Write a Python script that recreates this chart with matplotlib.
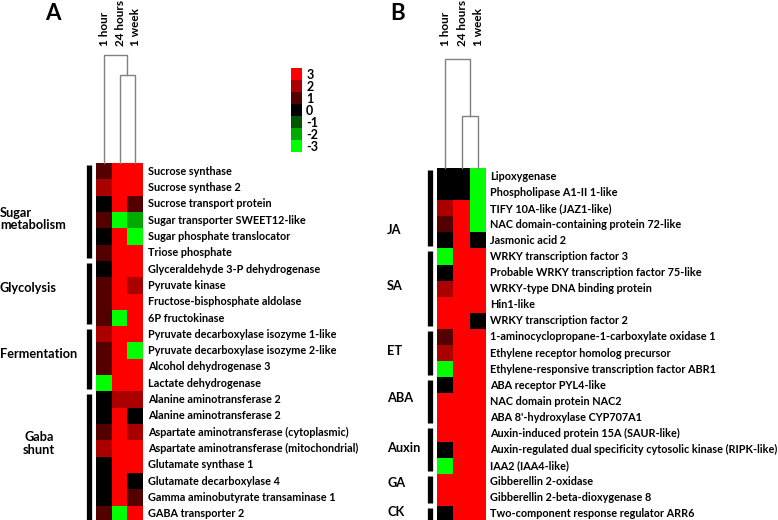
import matplotlib
matplotlib.use("Agg")
import matplotlib.pyplot as plt
import matplotlib.transforms as mtrans
from matplotlib.colors import ListedColormap, BoundaryNorm
import numpy as np

# ---------------- data ----------------
time_points = ["1 hour", "24 hours", "1 week"]

genes_A = ["Sucrose synthase", "Sucrose synthase 2", "Sucrose transport protein",
           "Sugar transporter SWEET12-like", "Sugar phosphate translocator", "Triose phosphate",
           "Glyceraldehyde 3-P dehydrogenase", "Pyruvate kinase", "Fructose-bisphosphate aldolase",
           "6P fructokinase", "Pyruvate decarboxylase isozyme 1-like",
           "Pyruvate decarboxylase isozyme 2-like", "Alcohol dehydrogenase 3",
           "Lactate dehydrogenase", "Alanine aminotransferase 2", "Alanine aminotransferase 2",
           "Aspartate aminotransferase (cytoplasmic)", "Aspartate aminotransferase (mitochondrial)",
           "Glutamate synthase 1", "Glutamate decarboxylase 4",
           "Gamma aminobutyrate transaminase 1", "GABA transporter 2"]
hour1_A = [1, 2, 0, 1, 0, 1, 0, 1, 1, 1, 2, 1, 1, -3, 0, 0, 1, 2, 0, 0, 0, 1]
hours24_A = [3, 3, 3, -3, 3, 3, 3, 3, 3, -3, 3, 3, 3, 3, 2, 3, 3, 3, 3, 3, 3, -3]
week1_A = [3, 3, 1, -2, -3, 3, 3, 2, 3, 3, 3, -3, 3, 3, 2, 0, 2, 3, 3, 0, 1, 3]
groups_A = ["Sugar\nmetabolism", "Glycolysis", "Fermentation", "Gaba\nshunt"]
group_rows_A = [(0, 5), (6, 9), (10, 13), (14, 21)]

genes_B = ["Lipoxygenase", "Phospholipase A1-II 1-like", "TIFY 10A-like (JAZ1-like)",
           "NAC domain-containing protein 72-like", "Jasmonic acid 2",
           "WRKY transcription factor 3", "Probable WRKY transcription factor 75-like",
           "WRKY-type DNA binding protein", "Hin1-like", "WRKY transcription factor 2",
           "1-aminocyclopropane-1-carboxylate oxidase 1", "Ethylene receptor homolog precursor",
           "Ethylene-responsive transcription factor ABR1", "ABA receptor PYL4-like",
           "NAC domain protein NAC2", "ABA 8'-hydroxylase CYP707A1",
           "Auxin-induced protein 15A (SAUR-like)",
           "Auxin-regulated dual specificity cytosolic kinase (RIPK-like)",
           "IAA2 (IAA4-like)", "Gibberellin 2-oxidase", "Gibberellin 2-beta-dioxygenase 8",
           "Two-component response regulator ARR6"]
hour1_B = [0, 0, 2, 1, 0, -3, 0, 2, 3, 3, 1, 2, -3, 0, 3, 3, 3, 0, -3, 3, 3, 0]
hours24_B = [0, 0, 3, 3, 3, 3, 3, 3, 3, 3, 3, 3, 3, 3, 3, 3, 3, 3, 3, 3, 3, 3]
week1_B = [-3, -3, -3, -3, 0, 3, 3, 3, 3, 0, 3, 3, 3, 3, 3, 3, 3, 3, 3, 3, 3, 3]
groups_B = ["JA", "SA", "ET", "ABA", "Auxin", "GA", "CK"]
group_rows_B = [(0, 4), (5, 9), (10, 12), (13, 15), (16, 18), (19, 20), (21, 21)]

# dendrogram linkages (scipy style: leaf/cluster a, leaf/cluster b, height)
linkage_A = [(1, 2, 0.815), (0, 3, 1.0)]
linkage_B = [(1, 2, 0.477), (0, 3, 1.0)]

scale_values = [3, 2, 1, 0, -1, -2, -3]

# ---------------- style ----------------
FONT = ["Lato", "DejaVu Sans"]
plt.rcParams["font.family"] = FONT
plt.rcParams["font.weight"] = "bold"

colors = ["#00ff00", "#00aa00", "#005500", "#000000", "#550000", "#aa0000", "#ff0000"]
cmap = ListedColormap(colors)
norm = BoundaryNorm(np.arange(-3.5, 4.0, 1.0), cmap.N)

W, H = 778, 520
fig = plt.figure(figsize=(W / 100, H / 100), dpi=100)


def px_axes(x0, y0, x1, y1):
    return fig.add_axes([x0 / W, 1 - y1 / H, (x1 - x0) / W, (y1 - y0) / H])


def draw_dendro(ax, linkage, n):
    pos = {i: i for i in range(n)}
    hgt = {i: 0.0 for i in range(n)}
    nxt = n
    for a, b, h in linkage:
        xa, xb = pos[a], pos[b]
        ax.plot([xa, xa, xb, xb], [hgt[a], h, h, hgt[b]], color="#808080", lw=1.0,
                clip_on=False, solid_joinstyle="miter")
        pos[nxt] = (xa + xb) / 2
        hgt[nxt] = h
        nxt += 1
    ax.set_xlim(-0.5, n - 0.5)
    ax.set_ylim(0, 1)
    ax.set_axis_off()


def panel(hx0, hx1, hy0, hy1, dtop, cols, genes, linkage, label_x,
          bar_x, groups, group_rows, group_label_pos, group_label_x, group_ha):
    data = np.array(cols).T
    ax = px_axes(hx0, hy0, hx1, hy1)
    ax.imshow(data, cmap=cmap, norm=norm, aspect="auto", interpolation="nearest")
    ax.set_xlim(-0.5, data.shape[1] - 0.5)
    ax.set_ylim(data.shape[0] - 0.5, -0.5)
    ax.set_axis_off()
    tr_lab = mtrans.blended_transform_factory(fig.transFigure, ax.transData)
    for i, g in enumerate(genes):
        ax.text(label_x / W, i, g, transform=tr_lab, ha="left", va="center",
                fontsize=7.8, fontweight="bold", color="black")
    for (r0, r1) in group_rows:
        ax.plot([bar_x / W, bar_x / W], [r0 - 0.35, r1 + 0.35], transform=tr_lab,
                color="black", lw=3.8, solid_capstyle="butt", clip_on=False)
    for g, yp, xp, ha in zip(groups, group_label_pos, group_label_x, group_ha):
        ax.text(xp / W, yp, g, transform=tr_lab, ha=ha, va="center",
                fontsize=9.2, fontweight="bold", color="black", linespacing=1.05,
                multialignment=ha)
    dax = px_axes(hx0, dtop, hx1, hy0)
    draw_dendro(dax, linkage, data.shape[1])
    tr_col = mtrans.blended_transform_factory(dax.transData, fig.transFigure)
    for j, t in enumerate(time_points):
        dax.text(j + 0.05, 1 - 46 / H, t, transform=tr_col, rotation=90,
                 ha="center", va="bottom", fontsize=8.5, fontweight="bold")


panel(96, 143, 163, 522, 55, [hour1_A, hours24_A, week1_A], genes_A, linkage_A, 148,
      88.5, groups_A, group_rows_A, [2.94, 7.17, 11.2, 16.7], [0, 0, 0, 39],
      ["left", "left", "left", "center"])

panel(437, 486, 168, 522, 59, [hour1_B, hours24_B, week1_B], genes_B, linkage_B, 490,
      429.5, groups_B, group_rows_B, [3.35, 6.83, 10.87, 13.78, 16.9, 19.07, 20.87],
      [387] * 7, ["left"] * 7)

# colour scale
cax = px_axes(291, 68, 302, 152)
cax.imshow(np.array(scale_values).reshape(-1, 1), cmap=cmap, norm=norm, aspect="auto",
           interpolation="nearest")
cax.set_xticks([])
cax.yaxis.tick_right()
cax.set_yticks(range(len(scale_values)))
cax.set_yticklabels([str(v) for v in scale_values], fontsize=9, fontweight="bold")
cax.tick_params(axis="y", length=0, pad=3)
for s in cax.spines.values():
    s.set_visible(False)

fig.text(53 / W, 1 - 13 / H, "A", fontsize=16, fontweight="bold", ha="center", va="center")
fig.text(398 / W, 1 - 13 / H, "B", fontsize=16, fontweight="bold", ha="center", va="center")

fig.savefig("out.png", dpi=100)
